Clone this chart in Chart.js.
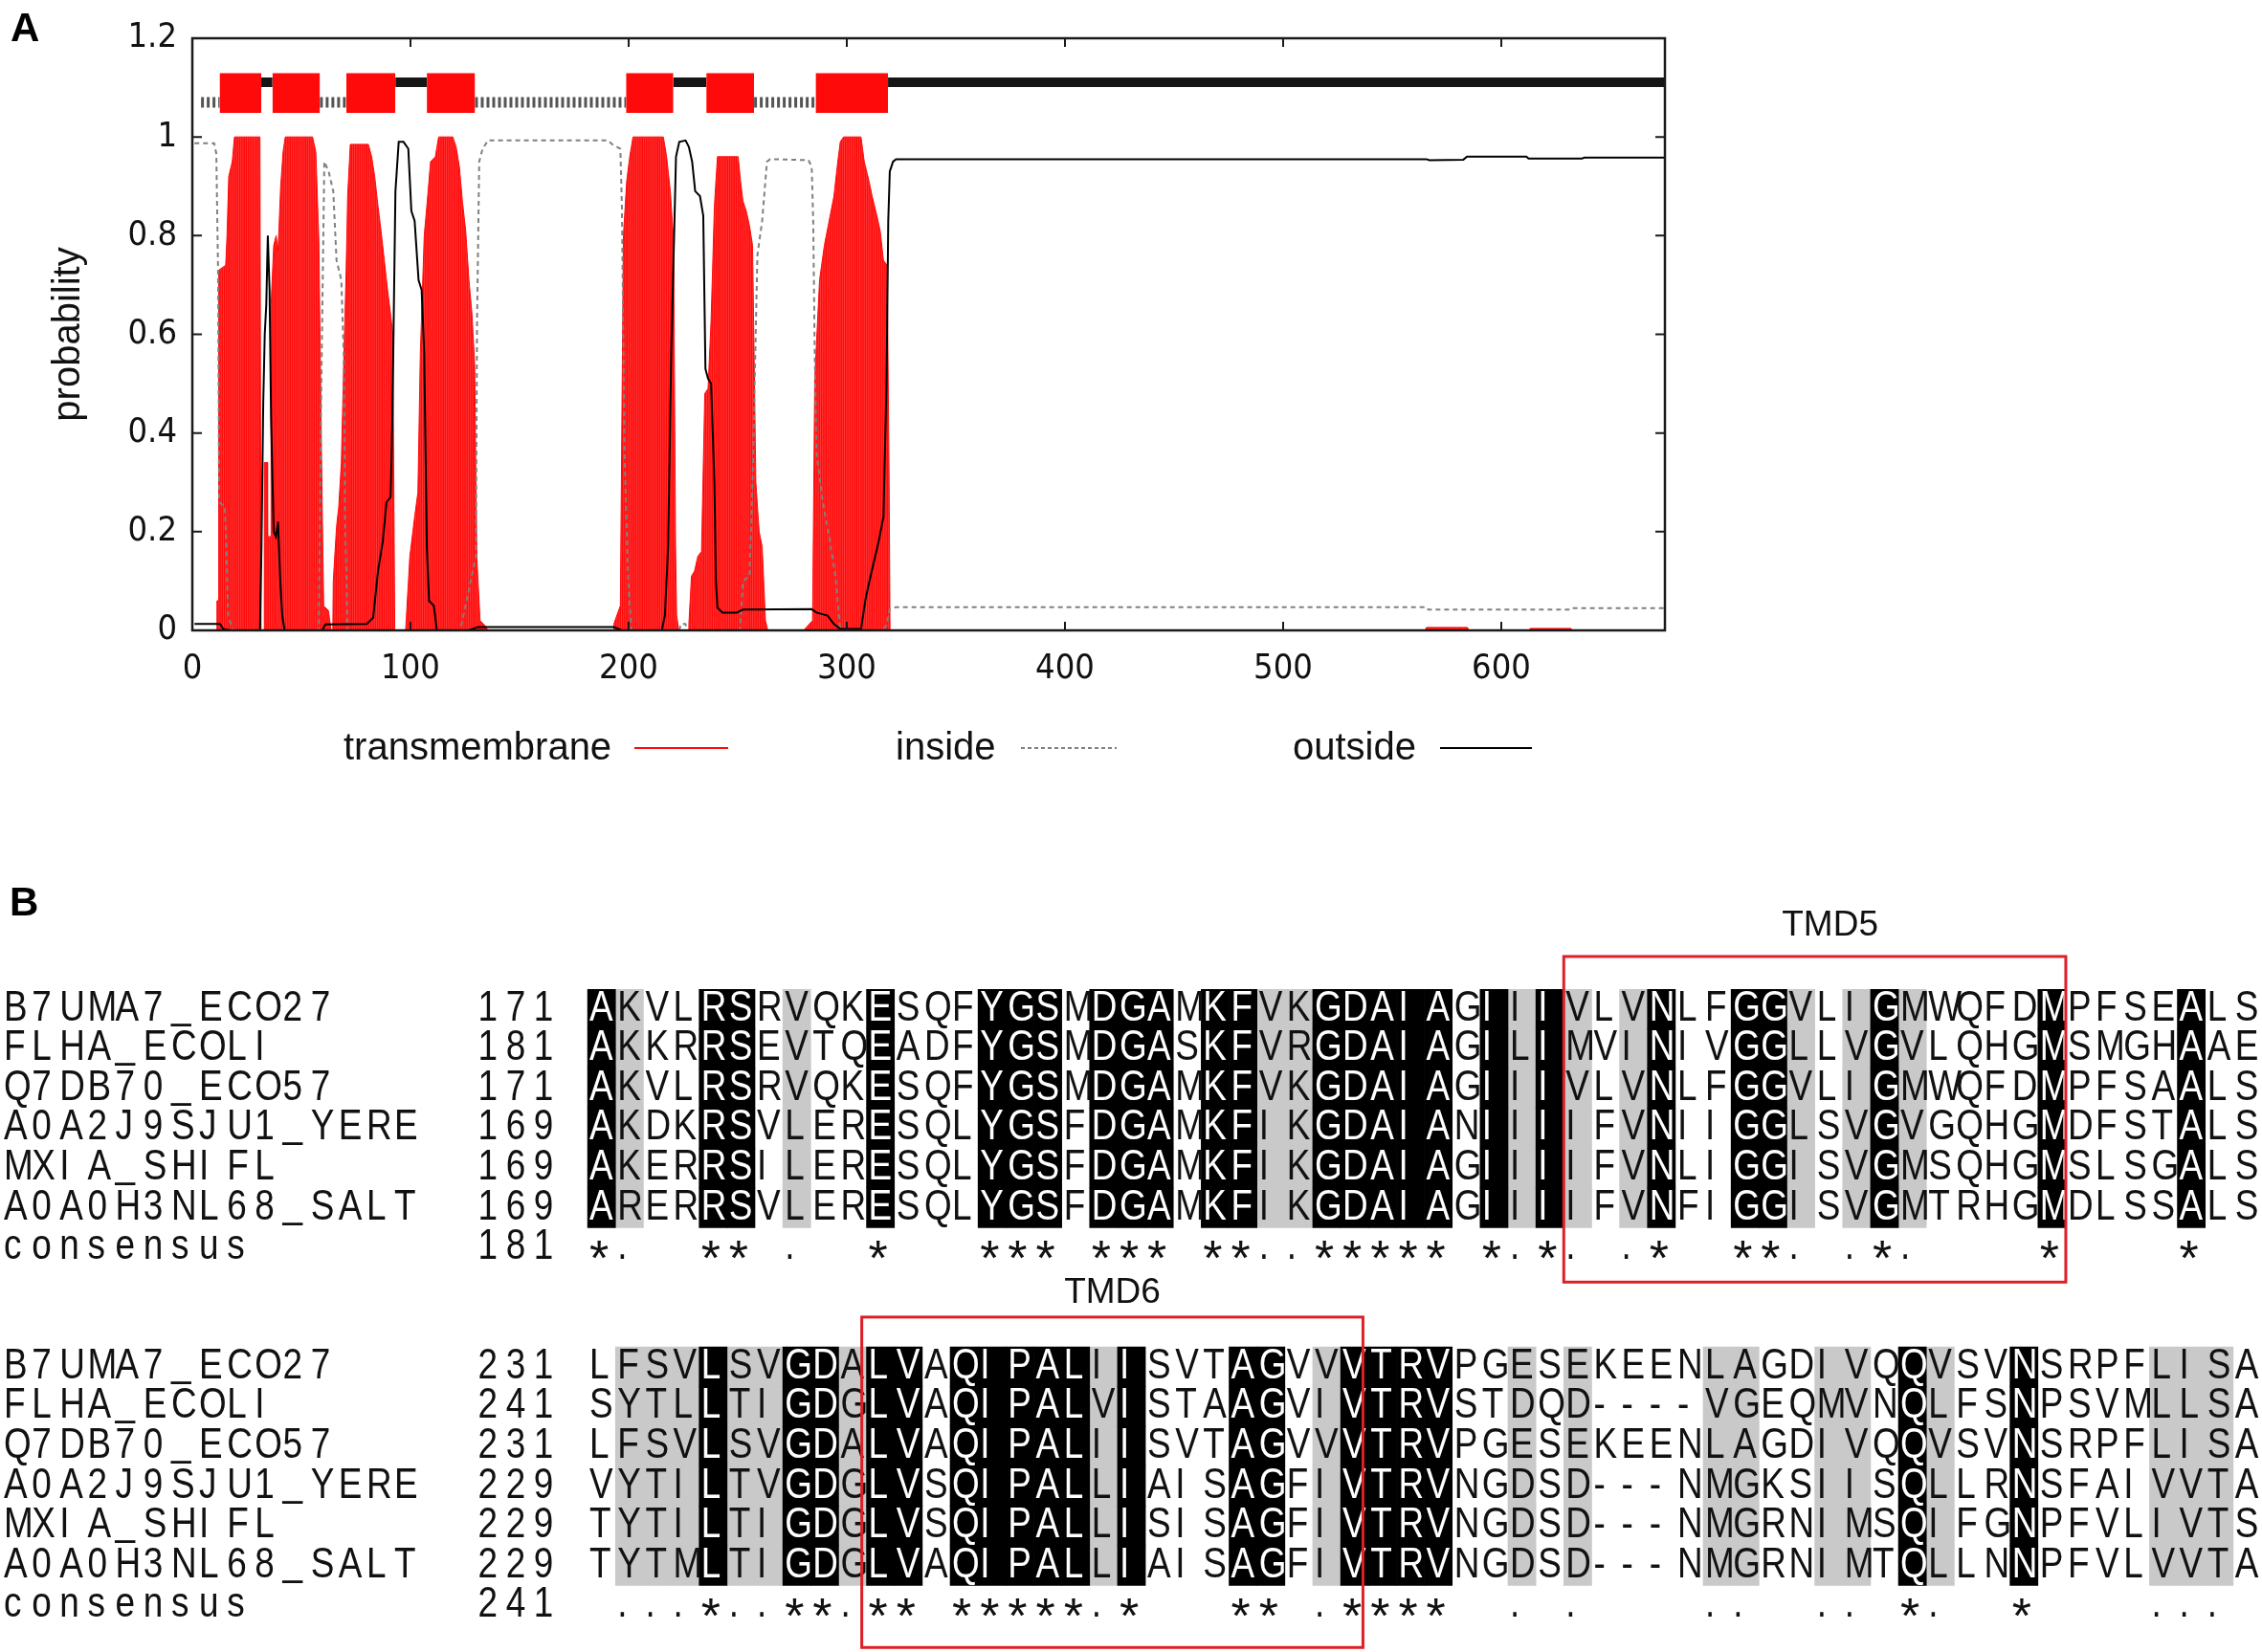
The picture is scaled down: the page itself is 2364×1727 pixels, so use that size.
<!DOCTYPE html>
<html>
<head>
<meta charset="utf-8">
<script src="https://cdn.jsdelivr.net/npm/chart.js@4.4.1/dist/chart.umd.min.js"></script>
<style>
  html, body { margin: 0; padding: 0; background: #fff; }
  #page { position: relative; width: 2364px; height: 1727px; background: #fff; overflow: hidden; }
  #tmChart { position: absolute; left: 0; top: 0; }
  #alnChart { position: absolute; left: 0; top: 900px; }
</style>
</head>
<body>
<div id="page">
  <canvas id="tmChart" width="1800" height="860"></canvas>
  <canvas id="alnChart" width="2364" height="827"></canvas>
</div>
<script>
// ---------- panel A : TMHMM posterior probabilities ----------
const seqLength = 675;

// [residue, probability]
const tmProfile = [
  [0, 0], [11, 0], [11.3, 0.06], [12, 0.06], [12.1, 0.73], [15.3, 0.74], [15.9, 0.80], [16.7, 0.92],
  [18.3, 0.95], [19.3, 1.0], [31.0, 1.0], [31.5, 0], [32.9, 0], [33.0, 0.34], [34.4, 0.34], [34.5, 0.19],
  [36.0, 0.19], [36.1, 0.66], [37.3, 0.78], [38.4, 0.80], [39.3, 0.77], [40.5, 0.90], [41.6, 0.97],
  [42.6, 1.0], [55.1, 1.0], [56.6, 0.97], [58.0, 0.79], [59.2, 0.36], [60.2, 0.05], [62.4, 0.04], [63.6, 0],
  [64.4, 0], [64.6, 0.10], [66.1, 0.21], [67.1, 0.25], [68.3, 0.34], [69.4, 0.54], [70.5, 0.73], [71.2, 0.88],
  [72.4, 0.985], [80.7, 0.985], [82.2, 0.96], [83.6, 0.92], [85.1, 0.86], [86.5, 0.81], [88.0, 0.75],
  [89.5, 0.69], [90.9, 0.64], [91.9, 0.60], [92.8, 0], [97.8, 0], [97.9, 0.01], [99.7, 0.15], [101.9, 0.23],
  [103.4, 0.28], [104.5, 0.56], [106.3, 0.80], [107.7, 0.87], [109.2, 0.95], [111.4, 0.96], [112.9, 1.0],
  [119.4, 1.0], [120.9, 0.98], [122.4, 0.94], [123.8, 0.87], [125.3, 0.81], [126.8, 0.71], [128.2, 0.64],
  [129.4, 0.54], [130.4, 0.15], [131.9, 0.02], [134.1, 0.01], [135.5, 0],
  [193.0, 0], [193.2, 0.013], [196.2, 0.05], [197.6, 0.80], [199.1, 0.91], [200.5, 0.96], [202.0, 1.0],
  [215.9, 1.0], [217.4, 0.96], [219.1, 0.89], [220.6, 0.79], [221.5, 0.17], [222.0, 0.03], [223.0, 0],
  [227.4, 0], [227.6, 0.013], [228.8, 0.11], [230.2, 0.12], [231.7, 0.15], [233.4, 0.16], [234.9, 0.48],
  [236.4, 0.49], [237.8, 0.63], [239.3, 0.86], [240.7, 0.96], [250.2, 0.96], [251.3, 0.91], [252.4, 0.87],
  [253.9, 0.85], [255.4, 0.82], [256.8, 0.78], [258.3, 0.30], [259.8, 0.20], [261.2, 0.17], [262.7, 0.02],
  [263.8, 0], [280.2, 0], [284.3, 0.02], [285.3, 0.51], [287.5, 0.71], [289.7, 0.78], [291.9, 0.83],
  [294.1, 0.88], [295.6, 0.94], [297.0, 0.99], [298.5, 1.0], [306.5, 1.0], [308.0, 0.95], [310.2, 0.91],
  [311.6, 0.88], [313.8, 0.84], [315.3, 0.81], [316.8, 0.75], [318.5, 0.74], [319.4, 0.30], [319.8, 0],
  [565, 0], [565.7, 0.006], [584.3, 0.006], [584.6, 0], [613, 0], [613.2, 0.004], [632, 0.004], [632.2, 0],
  [675, 0]
];

const insideProfile = [
  [1, 0.987], [10, 0.987], [11, 0.966], [11.8, 0.73], [12.3, 0.26], [14.9, 0.25], [15.6, 0.17], [16.4, 0.03],
  [18.6, 0], [58, 0], [59.0, 0.45], [60.5, 0.95], [62.5, 0.93], [64.6, 0.89], [66.1, 0.75], [68.3, 0.71],
  [69.4, 0.56], [70.0, 0.23], [71.2, 0], [122.8, 0], [130.0, 0.15], [130.5, 0.62], [131.5, 0.95],
  [133.0, 0.975], [135.5, 0.993], [190.5, 0.993], [192.5, 0.985], [196.2, 0.976], [196.9, 0.86],
  [198.1, 0.36], [199.8, 0.10], [201.3, 0], [223.2, 0], [224, 0.013], [226, 0.013], [227, 0], [251.0, 0],
  [252.4, 0.10], [255.4, 0.11], [256.8, 0.30], [259.0, 0.76], [261.2, 0.83], [263.4, 0.95], [264.9, 0.955],
  [282.4, 0.953], [283.9, 0.94], [284.6, 0.83], [285.3, 0.56], [286.1, 0.36], [289.0, 0.26], [291.9, 0.19],
  [294.8, 0.11], [297.0, 0], [316.0, 0], [318.2, 0.01], [319.7, 0.043], [322.6, 0.047], [565.7, 0.047],
  [566.5, 0.042], [631.9, 0.042], [632.5, 0.045], [675, 0.045]
];

const outsideProfile = [
  [1, 0.013], [12.7, 0.013], [14.2, 0.003], [17.1, 0], [31.0, 0], [31.7, 0.17], [32.5, 0.46], [33.2, 0.60],
  [33.9, 0.66], [34.6, 0.80], [35.4, 0.69], [36.1, 0.43], [37.3, 0.20], [38.3, 0.19], [39.3, 0.22],
  [40.2, 0.11], [41.2, 0.03], [42.3, 0], [59.5, 0], [61, 0.012], [80, 0.013], [82.9, 0.026], [85.1, 0.12],
  [87.3, 0.18], [89.0, 0.26], [90.9, 0.27], [91.7, 0.43], [93.1, 0.89], [94.6, 0.99], [96.8, 0.99],
  [99.0, 0.976], [100.4, 0.85], [101.9, 0.83], [103.7, 0.71], [105.1, 0.69], [106.3, 0.56], [107.5, 0.17],
  [108.5, 0.06], [110.7, 0.05], [112.1, 0], [126.8, 0], [131.1, 0.007], [193.2, 0.007], [196.9, 0],
  [215.2, 0], [216.6, 0.03], [218.1, 0.17], [219.5, 0.56], [221.0, 0.83], [221.7, 0.96], [223.2, 0.99],
  [226.1, 0.993], [227.6, 0.98], [229.1, 0.95], [230.5, 0.89], [232.7, 0.88], [234.2, 0.84], [235.2, 0.53],
  [236.4, 0.51], [237.8, 0.50], [239.3, 0.30], [240.0, 0.10], [240.7, 0.046], [243.0, 0.036], [249.5, 0.036],
  [252.4, 0.042], [283.9, 0.043], [286.1, 0.036], [291.2, 0.03], [294.1, 0.013], [297.0, 0.003],
  [306.5, 0.003], [308.7, 0.066], [310.9, 0.11], [314.6, 0.18], [316.8, 0.23], [318.2, 0.50], [319.0, 0.83],
  [319.7, 0.93], [321.2, 0.95], [322.6, 0.955], [565.7, 0.955], [567, 0.953], [582.6, 0.954], [584.3, 0.96],
  [611.5, 0.96], [612.5, 0.956], [637, 0.956], [638, 0.958], [675, 0.958]
];

// predicted topology bar along the top: [from, to] residues
const tmSegments = [[12.5, 31.6], [36.7, 58.5], [70.6, 93.1], [107.5, 129.6], [198.8, 220.5], [235.6, 257.5], [285.7, 318.9]];
const insideSegments = [[4, 12.5], [58.5, 70.6], [129.6, 198.8], [257.5, 285.7]];
const outsideSegments = [[31.6, 36.7], [93.1, 107.5], [220.5, 235.6], [318.9, 675]];
const topologyLevels = { tmLow: 1.049, tmHigh: 1.129, inside: 1.070, outside: 1.111 };

const legendLabels = ['transmembrane', 'inside', 'outside'];

// ---------- panel B : alignment ----------
const seqNames = ['B7UMA7_ECO27', 'FLHA_ECOLI', 'Q7DB70_ECO57', 'A0A2J9SJU1_YERE', 'MXIA_SHIFL', 'A0A0H3NL68_SALT'];

const block1Start = [171, 181, 171, 169, 169, 169];
const block1ConsStart = 181;
const block1Seqs = [
  'AKVLRSRVQKESQFYGSMDGAMKFVKGDAIAGIIIVLVNLFGGVLIGMWQFDMPFSEALS',
  'AKKRRSEVTQEADFYGSMDGASKFVRGDAIAGILIMVINIVGGLLVGVLQHGMSMGHAAE',
  'AKVLRSRVQKESQFYGSMDGAMKFVKGDAIAGIIIVLVNLFGGVLIGMWQFDMPFSAALS',
  'AKDKRSVLERESQLYGSFDGAMKFIKGDAIANIIIIFVNIIGGLSVGVGQHGMDFSTALS',
  'AKERRSILERESQLYGSFDGAMKFIKGDAIAGIIIIFVNLIGGISVGMSQHGMSLSGALS',
  'ARERRSVLERESQLYGSFDGAMKFIKGDAIAGIIIIFVNFIGGISVGMTRHGMDLSSALS'
];
const block1Cons = '*.  ** .  ' + '*   *** **' + '* **..****' + '* *.*. .* ' + ' **. .*.  ' + '  *    *  ';

const block2Start = [231, 241, 231, 229, 229, 229];
const block2ConsStart = 241;
const block2Seqs = [
  'LFSVLSVGDALVAQIPALIISVTAGVVVTRVPGESEKEENLAGDIVQQVSVNSRPFLISA',
  'SYTLLTIGDGLVAQIPALVISTAAGVIVTRVSTDQD----VGEQMVNQLFSNPSVMLLSA',
  'LFSVLSVGDALVAQIPALIISVTAGVVVTRVPGESEKEENLAGDIVQQVSVNSRPFLISA',
  'VYTILTVGDGLVSQIPALLIAISAGFIVTRVNGDSD---NMGKSIISQLLRNSFAIVVTA',
  'TYTILTIGDGLVSQIPALLISISAGFIVTRVNGDSD---NMGRNIMSQIFGNPFVLIVTS',
  'TYTMLTIGDGLVAQIPALLIAISAGFIVTRVNGDSD---NMGRNIMTQLLNNPFVLVVTA'
];
const block2Cons = ' ...*..**.' + '** *****.*' + '   ** .***' + '*  . .    ' + '..  .. *. ' + ' *    ... ';

// boxed transmembrane segments, in alignment columns (column edges)
const tmdSpans = [
  { name: 'TMD5', block: 0, from: 35.0, to: 53.0 },
  { name: 'TMD6', block: 1, from: 9.83, to: 27.8 }
];

// ================= chart A =================
const pts = arr => arr.map(([x, y]) => ({ x, y }));
const segPts = (segs, level) => {
  const out = [];
  segs.forEach(([a, b]) => { out.push({ x: a, y: level }, { x: b, y: level }, { x: b, y: null }); });
  return out;
};

const RED = '#ff0a0a';

// red with faint light stripes, like gnuplot impulses (one per residue ~2.28px)
function impulsePattern() {
  const c = document.createElement('canvas');
  c.width = 16; c.height = 4;
  const g = c.getContext('2d');
  g.fillStyle = RED;
  g.fillRect(0, 0, 16, 4);
  g.strokeStyle = 'rgba(255,150,150,0.55)';
  g.lineWidth = 0.6;
  for (let i = 0; i < 7; i++) {
    const px = i * 16 / 7 + 0.3;
    g.beginPath(); g.moveTo(px, 0); g.lineTo(px, 4); g.stroke();
  }
  return g.createPattern(c, 'repeat');
}

const tmFrame = {
  id: 'tmFrame',
  afterDraw(chart) {
    const { ctx, chartArea: a, scales: { x, y } } = chart;
    ctx.save();
    ctx.strokeStyle = '#1a1a1a';
    ctx.lineWidth = 2.5;
    ctx.strokeRect(a.left, a.top, a.right - a.left, a.bottom - a.top);
    // gnuplot style ticks, pointing inwards on all four sides
    ctx.lineWidth = 2;
    ctx.beginPath();
    x.ticks.forEach(t => {
      const px = x.getPixelForValue(t.value);
      ctx.moveTo(px, a.bottom); ctx.lineTo(px, a.bottom - 9);
      ctx.moveTo(px, a.top); ctx.lineTo(px, a.top + 9);
    });
    y.ticks.forEach(t => {
      const py = y.getPixelForValue(t.value);
      ctx.moveTo(a.left, py); ctx.lineTo(a.left + 10, py);
      ctx.moveTo(a.right, py); ctx.lineTo(a.right - 10, py);
    });
    ctx.stroke();

    // key: text first, then the line sample
    const keys = [
      { tx: 359, x0: 663, x1: 761, color: RED, dash: [], w: 2 },
      { tx: 936, x0: 1067, x1: 1167, color: '#808080', dash: [4, 3], w: 2 },
      { tx: 1351, x0: 1505, x1: 1601, color: '#000', dash: [], w: 2 }
    ];
    ctx.font = '40px "Liberation Sans", Arial, sans-serif';
    ctx.fillStyle = '#111';
    ctx.textBaseline = 'alphabetic';
    keys.forEach((k, i) => {
      ctx.fillText(legendLabels[i], k.tx, 794);
      ctx.beginPath();
      ctx.setLineDash(k.dash);
      ctx.strokeStyle = k.color;
      ctx.lineWidth = k.w;
      ctx.moveTo(k.x0, 782); ctx.lineTo(k.x1, 782);
      ctx.stroke();
    });
    ctx.setLineDash([]);
    ctx.font = 'bold 42px "Liberation Sans", Arial, sans-serif';
    ctx.fillStyle = '#000';
    ctx.fillText('A', 11, 43);
    ctx.restore();
  }
};

const tickFont = { family: '"DejaVu Sans Condensed", "Liberation Sans Narrow", "Liberation Sans", sans-serif', size: 36 };

new Chart(document.getElementById('tmChart'), {
  type: 'line',
  data: {
    datasets: [
      ...tmSegments.map(([a, b]) => ({
        data: [{ x: a, y: topologyLevels.tmHigh }, { x: b, y: topologyLevels.tmHigh }],
        fill: { value: topologyLevels.tmLow },
        backgroundColor: RED, borderWidth: 0, order: 1
      })),
      { data: segPts(outsideSegments, topologyLevels.outside), borderColor: '#161616', borderWidth: 10, borderCapStyle: 'butt', fill: false, order: 2 },
      { data: segPts(insideSegments, topologyLevels.inside), borderColor: '#555', borderWidth: 11, borderDash: [3, 3], borderCapStyle: 'butt', fill: false, order: 2 },
      { label: 'outside', data: pts(outsideProfile), borderColor: '#000', borderWidth: 2, fill: false, order: 3 },
      { label: 'inside', data: pts(insideProfile), borderColor: '#808080', borderWidth: 2, borderDash: [5, 4], fill: false, order: 4 },
      { label: 'transmembrane', data: pts(tmProfile), borderColor: RED, backgroundColor: impulsePattern(), borderWidth: 1, fill: 'origin', order: 5 }
    ]
  },
  options: {
    responsive: false,
    animation: false,
    devicePixelRatio: 1,
    layout: { padding: { top: 40, right: 60, left: 0, bottom: 141 } },
    elements: { point: { radius: 0 }, line: { tension: 0 } },
    scales: {
      x: {
        type: 'linear', min: 0, max: seqLength,
        grid: { display: false, drawTicks: false },
        border: { display: false },
        ticks: { stepSize: 100, includeBounds: false, padding: 19, color: '#111', font: tickFont, maxRotation: 0 },
        afterFit(s) { s.height = 60; }
      },
      y: {
        min: 0, max: 1.2,
        grid: { display: false, drawTicks: false },
        border: { display: false },
        ticks: { stepSize: 0.2, padding: 16, color: '#111', font: tickFont, callback: v => String(+v.toFixed(1)) },
        title: { display: true, text: 'probability', color: '#111', font: { family: '"Liberation Sans", Arial, sans-serif', size: 40 }, padding: { top: 48, bottom: 0 } },
        afterFit(s) { s.width = 201; }
      }
    },
    plugins: { legend: { display: false }, tooltip: { enabled: false } }
  },
  plugins: [tmFrame]
});

// ================= chart B =================
const blocks = [
  { seqs: block1Seqs, starts: block1Start, cons: block1Cons, consStart: block1ConsStart, row0: 0 },
  { seqs: block2Seqs, starts: block2Start, cons: block2Cons, consStart: block2ConsStart, row0: 9 }
];
const rowLabels = Array.from({ length: 16 }, (_, i) => 'r' + i);

// a column is shaded black when fully conserved (*), grey when similar (.)
function shadeCells(sym) {
  const cells = [];
  blocks.forEach(b => {
    [...b.cons].forEach((c, j) => {
      if (c !== sym) return;
      b.seqs.forEach((s, r) => cells.push({ x: [j, j + 1], y: rowLabels[b.row0 + r] }));
    });
  });
  return cells;
}

const alignText = {
  id: 'alignText',
  afterDatasetsDraw(chart) {
    const { ctx, scales: { x, y } } = chart;
    const FONT = '45px "Liberation Sans", Arial, sans-serif';
    const STAR = '52px "Liberation Sans", Arial, sans-serif';
    const put = (ch, col, row, color, dy, sx) => {
      ctx.save();
      ctx.translate(x.getPixelForValue(col) + 2, y.getPixelForValue(row) + dy);
      ctx.scale(sx, 1);
      ctx.fillStyle = color;
      ctx.fillText(ch, 0, 0);
      ctx.restore();
    };
    const putStr = (str, col0, row, color) => [...str].forEach((ch, i) => put(ch, col0 + i, row, color, ch === '_' ? 9 : 12, 0.82));
    ctx.save();
    ctx.textBaseline = 'alphabetic';
    blocks.forEach(b => {
      ctx.font = FONT;
      b.seqs.forEach((s, r) => {
        const row = b.row0 + r;
        putStr(seqNames[r], -21, row, '#111');
        putStr(String(b.starts[r]), -4, row, '#111');
        [...s].forEach((ch, j) => put(ch, j, row, b.cons[j] === '*' ? '#fff' : '#111', 12, 0.82));
      });
      const crow = b.row0 + 6;
      putStr('consensus', -21, crow, '#111');
      putStr(String(b.consStart), -4, crow, '#111');
      [...b.cons].forEach((ch, j) => {
        if (ch === '.') put(ch, j, crow, '#111', 12, 0.82);
      });
      ctx.font = STAR;
      [...b.cons].forEach((ch, j) => {
        if (ch === '*') put(ch, j, crow, '#111', 29, 1);
      });
    });

    // red boxes round the TM segments
    const boxRows = [[-0.82, 7.37], [-0.75, 7.56]];
    const labelRow = [-1.59, -1.35];
    ctx.strokeStyle = '#dd2027';
    ctx.lineWidth = 3;
    tmdSpans.forEach(t => {
      const b = blocks[t.block];
      const x0 = x.getPixelForValue(t.from), x1 = x.getPixelForValue(t.to);
      const y0 = y.getPixelForValue(b.row0 + boxRows[t.block][0] - 0.5);
      const y1 = y.getPixelForValue(b.row0 + boxRows[t.block][1] - 0.5);
      ctx.strokeRect(x0, y0, x1 - x0, y1 - y0);
      ctx.font = '37px "Liberation Sans", Arial, sans-serif';
      ctx.fillStyle = '#111';
      ctx.textAlign = 'center';
      ctx.textBaseline = 'middle';
      ctx.fillText(t.name, (x0 + x1) / 2 + (t.block === 0 ? 16 : 0), y.getPixelForValue(b.row0 + labelRow[t.block] - 0.5));
    });

    ctx.textAlign = 'left';
    ctx.textBaseline = 'alphabetic';
    ctx.font = 'bold 42px "Liberation Sans", Arial, sans-serif';
    ctx.fillStyle = '#000';
    ctx.fillText('B', 10, 57);
    ctx.restore();
  }
};

new Chart(document.getElementById('alnChart'), {
  type: 'bar',
  data: {
    labels: rowLabels,
    datasets: [
      { label: 'identical', data: shadeCells('*'), backgroundColor: '#000', borderWidth: 0, grouped: false, barPercentage: 1, categoryPercentage: 1 },
      { label: 'similar', data: shadeCells('.'), backgroundColor: '#c9c9c9', borderWidth: 0, grouped: false, barPercentage: 1, categoryPercentage: 1 }
    ]
  },
  options: {
    indexAxis: 'y',
    responsive: false,
    animation: false,
    devicePixelRatio: 1,
    layout: { padding: { left: 2, right: 1, top: 134, bottom: 28 } },
    scales: {
      x: { type: 'linear', min: -21, max: 60, display: false },
      y: { type: 'category', display: false }
    },
    plugins: { legend: { display: false }, tooltip: { enabled: false } }
  },
  plugins: [alignText]
});
</script>
</body>
</html>
